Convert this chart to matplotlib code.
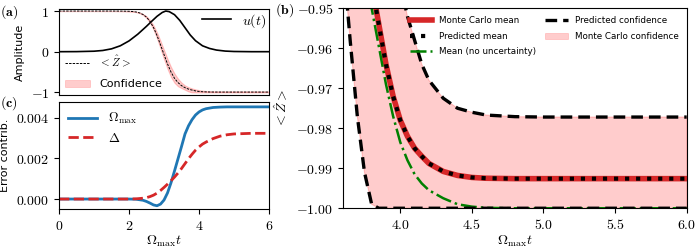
import matplotlib
matplotlib.use("Agg")
import matplotlib.pyplot as plt
from matplotlib.ticker import FuncFormatter
from matplotlib.lines import Line2D
from matplotlib.patches import Patch

plt.rcParams["mathtext.fontset"] = "cm"
plt.rcParams["font.family"] = ["DejaVu Sans"]

# ---- panel (a)/(b): pulse and <Z> expectation ----
t_u = [0, 0.5, 1.0, 1.25, 1.5, 1.75, 2.0, 2.25, 2.5, 2.65, 2.8, 2.95, 3.05, 3.15,
       3.3, 3.45, 3.6, 3.75, 3.9, 4.1, 4.3, 4.5, 4.75, 5.0, 5.5, 6.0]
u_pulse = [0, 0.002, 0.012, 0.03, 0.07, 0.145, 0.265, 0.43, 0.625, 0.75, 0.87, 0.965, 1.0, 0.985,
           0.91, 0.77, 0.59, 0.41, 0.27, 0.145, 0.08, 0.04, 0.015, 0.005, 0.0, 0.0]

t_z = [0.0, 1.5, 1.8, 2.0, 2.1, 2.2, 2.3, 2.4, 2.5, 2.6, 2.7, 2.8, 2.9, 3.0, 3.1, 3.2,
       3.3, 3.4, 3.5, 3.6, 3.65, 3.7, 3.75, 3.8, 3.85, 3.9, 3.95, 4.0, 4.05, 4.1,
       4.15, 4.2, 4.3, 4.4, 4.5, 4.6, 4.8, 5.0, 5.5, 6.0]
mc_mean = [1.0, 1.0, 0.998, 0.994, 0.988, 0.977, 0.955, 0.915, 0.85, 0.745, 0.595, 0.40, 0.17,
           -0.07, -0.30, -0.50, -0.655, -0.76, -0.835, -0.885, -0.904, -0.92, -0.933, -0.944,
           -0.954, -0.964, -0.972, -0.978, -0.982, -0.985, -0.987, -0.9888, -0.9908, -0.9918,
           -0.9923, -0.9925, -0.9926, -0.9926, -0.9926, -0.9926]
pred_mean = mc_mean
mean_no_unc = [1.0, 1.0, 0.998, 0.994, 0.988, 0.977, 0.955, 0.915, 0.85, 0.745, 0.594, 0.398,
               0.167, -0.075, -0.306, -0.507, -0.664, -0.771, -0.848, -0.898, -0.916, -0.93,
               -0.941, -0.950, -0.9595, -0.969, -0.977, -0.9835, -0.988, -0.9915, -0.9938,
               -0.9955, -0.9975, -0.999, -0.9996, -0.9999, -1.0, -1.0, -1.0, -1.0]
conf_hi = [1.0, 1.0, 0.999, 0.996, 0.991, 0.981, 0.962, 0.927, 0.87, 0.778, 0.646, 0.472, 0.264,
           0.041, -0.178, -0.377, -0.538, -0.665, -0.76, -0.83, -0.852, -0.872, -0.888, -0.902,
           -0.915, -0.926, -0.936, -0.944, -0.952, -0.958, -0.964, -0.968, -0.9725, -0.975,
           -0.976, -0.9767, -0.9771, -0.9772, -0.9772, -0.9772]
conf_lo = [0.999, 0.999, 0.997, 0.992, 0.985, 0.973, 0.948, 0.903, 0.83, 0.712, 0.544, 0.328,
           0.076, -0.181, -0.422, -0.623, -0.765, -0.85, -0.895, -0.937, -0.958, -0.977, -0.991,
           -0.999, -1.0, -1.0, -1.0, -1.0, -1.0, -1.0, -1.0, -1.0, -1.0, -1.0, -1.0, -1.0, -1.0,
           -1.0, -1.0, -1.0]

# ---- panel (c): error contributions ----
t_c = [0, 2.0, 2.2, 2.4, 2.5, 2.6, 2.7, 2.8, 2.9, 3.0, 3.1, 3.2, 3.3, 3.4, 3.5, 3.6, 3.7,
       3.8, 3.9, 4.0, 4.1, 4.2, 4.4, 4.6, 4.8, 5.0, 5.5, 6.0]
err_omega = [0, 0, -0.00001, -0.00006, -0.00012, -0.0002, -0.00029, -0.00033, -0.00025,
             -0.00005, 0.0003, 0.0008, 0.00138, 0.00198, 0.00258, 0.0032, 0.0036, 0.0039,
             0.00413, 0.00428, 0.00438, 0.00444, 0.0045, 0.00452, 0.00453, 0.00453, 0.00453,
             0.00453]
err_delta = [0, 0, 0.00001, 0.00004, 0.00007, 0.00012, 0.00019, 0.00029, 0.00042, 0.00057,
             0.00073, 0.0009, 0.00108, 0.00128, 0.0015, 0.00174, 0.00198, 0.0022, 0.0024,
             0.00256, 0.0027, 0.0028, 0.00297, 0.00309, 0.00316, 0.0032, 0.00323, 0.00323]


def mfmt(nd):
    return FuncFormatter(lambda v, p: f"${v:.{nd}f}$")


fig = plt.figure(figsize=(7, 2.5), dpi=100)
ax_a = fig.add_axes([0.0843, 0.62, 0.30, 0.344])
ax_c = fig.add_axes([0.0843, 0.164, 0.30, 0.428])
ax_b = fig.add_axes([0.49, 0.167, 0.491, 0.80])

# (a)
lu, = ax_a.plot(t_u, u_pulse, color="black", lw=1.2)
ax_a.fill_between(t_z, conf_lo, conf_hi, color="red", alpha=0.2, lw=0.8)
lz, = ax_a.plot(t_z, pred_mean, color="black", lw=0.7, ls=(0, (2.5, 1.2)))
ax_a.set_xlim(0, 6)
ax_a.set_ylim(-1.065, 1.05)
ax_a.set_yticks([-1, 0, 1])
ax_a.yaxis.set_major_formatter(mfmt(0))
ax_a.tick_params(axis="x", bottom=False, labelbottom=False)
ax_a.tick_params(axis="y", labelsize=10)
ax_a.set_ylabel("Amplitude", fontsize=8)
leg1 = ax_a.legend([lu], [r"$u(t)$"], loc="upper right", frameon=False, fontsize=10,
                   handlelength=2.1, borderaxespad=0.0, borderpad=0.2)
ax_a.add_artist(leg1)
ax_a.legend([lz, Patch(facecolor="red", alpha=0.2, edgecolor="red", lw=0.5)],
            [r"$<\hat{Z}>$", "Confidence"], loc="lower left", frameon=False,
            fontsize=8, handlelength=2.3, borderaxespad=0.1, labelspacing=0.9)

# (c)
ax_c.plot(t_c, err_omega, color="#1f77b4", lw=2, label=r"$\Omega_{\max}$")
ax_c.plot(t_c, err_delta, color="#d62728", lw=2, ls="--", label=r"$\Delta$")
ax_c.set_xlim(0, 6)
ax_c.set_ylim(-0.00049, 0.00477)
ax_c.set_xticks([0, 2, 4, 6])
ax_c.set_yticks([0, 0.002, 0.004])
ax_c.xaxis.set_major_formatter(mfmt(0))
ax_c.yaxis.set_major_formatter(mfmt(3))
ax_c.tick_params(labelsize=10)
ax_c.set_ylabel("Error contrib.", fontsize=8)
ax_c.set_xlabel(r"$\Omega_{\max}t$", fontsize=10, labelpad=1)
ax_c.legend(loc="upper left", frameon=False, fontsize=9.5, handlelength=2.2,
            labelspacing=0.4, borderaxespad=0.3)

# (b)
ax_b.fill_between(t_z, conf_lo, conf_hi, color="red", alpha=0.2, lw=0.8)
ax_b.plot(t_z, mc_mean, color="#d62728", lw=4)
ax_b.plot(t_z, pred_mean, color="black", lw=3, ls=":")
ax_b.plot(t_z, mean_no_unc, color="green", lw=1.8, ls="-.")
ax_b.plot(t_z, conf_lo, color="black", lw=2.4, ls=(0, (3.5, 1.8)))
ax_b.plot(t_z, conf_hi, color="black", lw=2.4, ls=(0, (3.5, 1.8)))
ax_b.set_xlim(3.6, 6.0)
ax_b.set_ylim(-1.0, -0.95)
ax_b.set_xticks([4.0, 4.5, 5.0, 5.5, 6.0])
ax_b.set_yticks([-1.0, -0.99, -0.98, -0.97, -0.96, -0.95])
ax_b.xaxis.set_major_formatter(mfmt(1))
ax_b.yaxis.set_major_formatter(mfmt(2))
ax_b.tick_params(labelsize=10)
ax_b.set_xlabel(r"$\Omega_{\max}t$", fontsize=10, labelpad=1)
ax_b.set_ylabel(r"$<\hat{Z}>$", fontsize=10)
handles = [Line2D([], [], color="#d62728", lw=4),
           Line2D([], [], color="black", lw=3, ls=":"),
           Line2D([], [], color="green", lw=1.8, ls="-."),
           Line2D([], [], color="black", lw=2.4, ls=(0, (3.5, 1.8))),
           Patch(facecolor="red", alpha=0.2, edgecolor="red", lw=0.5)]
labels = ["Monte Carlo mean", "Predicted mean", "Mean (no uncertainty)",
          "Predicted confidence", "Monte Carlo confidence"]
ax_b.legend(handles, labels, loc="upper right", ncol=2, frameon=False, fontsize=6.3,
            handlelength=2.6, columnspacing=1.0, borderaxespad=0.5, labelspacing=0.75)

fig.text(0.0, 0.952, r"$\mathbf{(a)}$", fontsize=10, va="center")
fig.text(0.0, 0.588, r"$\mathbf{(c)}$", fontsize=10, va="center")
fig.text(0.393, 0.96, r"$\mathbf{(b)}$", fontsize=10, va="center")

fig.savefig("out.png", dpi=100)
